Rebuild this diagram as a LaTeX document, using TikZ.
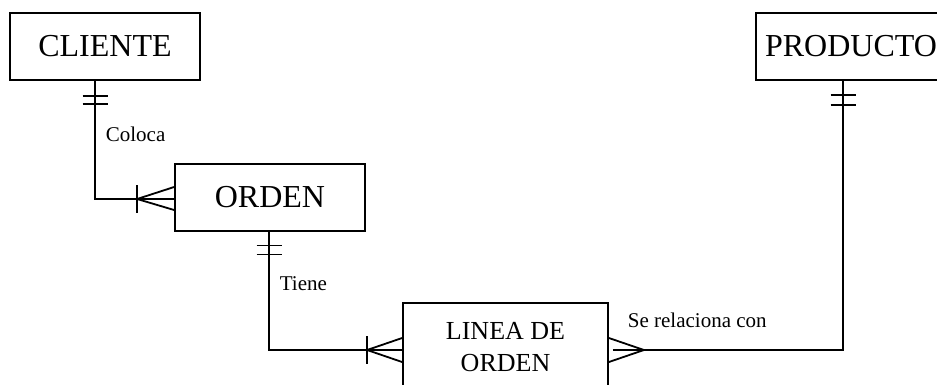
\documentclass[tikz,border=0pt]{standalone}
\usepackage{fontspec}
\setmainfont{Liberation Serif}
\usetikzlibrary{calc}
\begin{document}
\begin{tikzpicture}[x=1pt,y=-1pt,
  line width=1.8pt,
  entity/.style={draw, rectangle, inner sep=0pt, minimum width=190pt, minimum height=67pt,
    font=\fontsize{32}{36}\selectfont},
  rel/.style={font=\fontsize{21}{24}\selectfont, anchor=west, inner sep=0pt},
  conn/.style={line width=1.8pt}]
\useasboundingbox (0,0) rectangle (937,384);

% entities
\node[entity] (cliente) at (105,46.5) {CLIENTE};
\node[entity] (orden) at (270,197.5) {ORDEN};
\node[entity] (producto) at (851,46.5) {PRODUCTO};
\node[entity, minimum width=205pt, minimum height=88pt, align=center,
  font=\fontsize{26}{32}\selectfont] (linea) at (505.5,347) {LINEA DE\\ORDEN};

% relationship labels
\node[rel] (lcoloca) at (105,134) {Coloca};
\node[rel] (ltiene) at (279,284) {Tiene};
\node[rel] (lrel) at (627,320) {Se relaciona con};

% attachment points on the sides of LINEA DE ORDEN
\coordinate (lw) at ([yshift=-3pt]linea.west);
\coordinate (le) at ([yshift=-3pt]linea.east);

% CLIENTE -- ORDEN
\coordinate (c1) at ([xshift=-10pt]cliente.south);
\coordinate (o1) at ([yshift=-1.5pt]orden.west);
\draw[conn] (c1) |- (o1);
\draw[conn] ($(c1)+(-12.5,15)$) -- ++(25,0);
\draw[conn] ($(c1)+(-12.5,23)$) -- ++(25,0);
\draw[conn] ($(o1)+(-37,0)$) -- ($(o1)+(0,-12)$);
\draw[conn] ($(o1)+(-37,0)$) -- ($(o1)+(0,11)$);
\draw[conn] ($(o1)+(-37,-14)$) -- ++(0,28);

% ORDEN -- LINEA DE ORDEN
\coordinate (o2) at ([xshift=-1pt]orden.south);
\draw[conn] (o2) |- (lw);
\draw[conn] ($(o2)+(-12.5,13.5)$) -- ++(25,0);
\draw[conn] ($(o2)+(-12.5,22.5)$) -- ++(25,0);
\draw[conn] ($(lw)+(-35,0)$) -- ($(lw)+(0,-12)$);
\draw[conn] ($(lw)+(-35,0)$) -- ($(lw)+(0,12)$);
\draw[conn] ($(lw)+(-35,-14)$) -- ++(0,28);

% LINEA DE ORDEN -- PRODUCTO
\coordinate (p1) at ([xshift=-8pt]producto.south);
\draw[conn] ([xshift=4pt]le) -| (p1);
\draw[conn] ($(p1)+(-12.5,14)$) -- ++(25,0);
\draw[conn] ($(p1)+(-12.5,24)$) -- ++(25,0);
\draw[conn] ($(le)+(35,0)$) -- ($(le)+(0,-12)$);
\draw[conn] ($(le)+(35,0)$) -- ($(le)+(0,12)$);
\end{tikzpicture}
\end{document}
